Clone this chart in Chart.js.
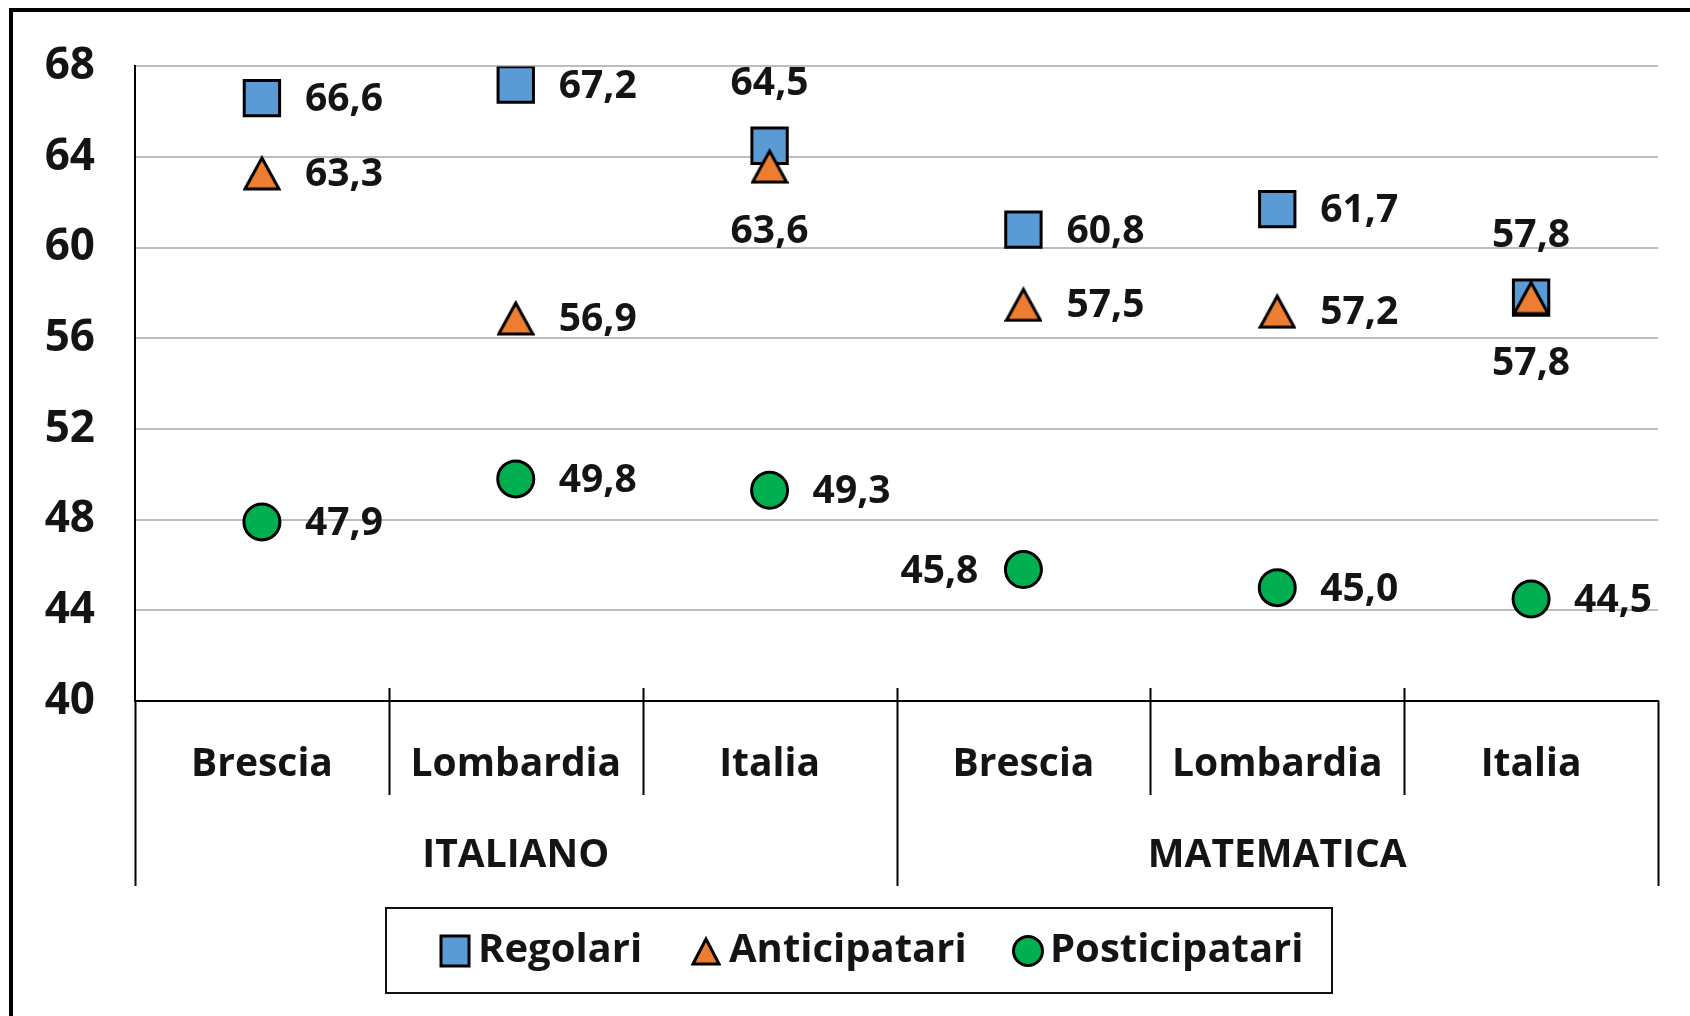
<!DOCTYPE html>
<html>
<head>
<meta charset="utf-8">
<script src="https://cdn.jsdelivr.net/npm/chart.js@4"></script>
<style>
  html, body { margin: 0; padding: 0; background: #fff; }
  #wrap { width: 1690px; height: 1016px; position: relative; }
</style>
</head>
<body>
<div id="wrap"><canvas id="chart"></canvas></div>
<script>
const categories = ["Brescia", "Lombardia", "Italia", "Brescia", "Lombardia", "Italia"]
const groups = ["ITALIANO", "MATEMATICA"]
const regolari = [66.6, 67.2, 64.5, 60.8, 61.7, 57.8]
const anticipatari = [63.3, 56.9, 63.6, 57.5, 57.2, 57.8]
const posticipatari = [47.9, 49.8, 49.3, 45.8, 45.0, 44.5]
const seriesNames = ["Regolari", "Anticipatari", "Posticipatari"]

// where each data label sits relative to its marker
const labelSide = [
  ["right", "right", "above", "right", "right", "above"],
  ["right", "right", "below", "right", "right", "below"],
  ["right", "right", "right", "left", "right", "right"],
]

const FONT = "'Open Sans', 'Liberation Sans', sans-serif"
const TXT = "#141414"
const BLUE = "#5b9bd5"
const ORANGE = "#ed7d31"
const GREEN = "#00b050"

const fmt = (v) => v.toFixed(1).replace(".", ",")

// triangle marker as an image so it is centred on its box like in Excel
function triangleMarker(w, h, lw) {
  const c = document.createElement("canvas")
  c.width = w
  c.height = h
  const t = c.getContext("2d")
  t.fillStyle = ORANGE
  t.strokeStyle = "#000"
  t.lineWidth = lw
  t.lineJoin = "miter"
  const m = lw / 2 + 0.5
  t.beginPath()
  t.moveTo(w / 2, m + 1)
  t.lineTo(w - m, h - m)
  t.lineTo(m, h - m)
  t.closePath()
  t.fill()
  t.stroke()
  return c
}
const triImg = triangleMarker(38, 36, 3)

// draws everything Chart.js does not: labels, category rows, legend, frame
const extras = {
  id: "extras",
  afterDraw(chart) {
    const ctx = chart.ctx
    const area = chart.chartArea
    const x = chart.scales.x
    ctx.save()

    // frame (left + top only)
    ctx.fillStyle = "#000"
    ctx.fillRect(9, 8, 4, 1008)
    ctx.fillRect(9, 8, 1681, 4)

    // category separators
    ctx.strokeStyle = "#000"
    ctx.lineWidth = 2
    const n = categories.length
    const edge = (i) => {
      if (i === 0) return area.left
      if (i === n) return area.right
      return (x.getPixelForValue(i - 1) + x.getPixelForValue(i)) / 2
    }
    for (let i = 0; i <= n; i++) {
      const ex = Math.round(edge(i)) + 0.5
      const isGroup = i % 3 === 0
      ctx.beginPath()
      ctx.moveTo(ex, (i === 0 || i === n) ? area.bottom : area.bottom - 13)
      ctx.lineTo(ex, isGroup ? 886 : 795)
      ctx.stroke()
    }

    // category + group text
    ctx.fillStyle = TXT
    ctx.font = "bold 39px " + FONT
    ctx.textAlign = "center"
    ctx.textBaseline = "middle"
    categories.forEach((c, i) => ctx.fillText(c, x.getPixelForValue(i), 765))
    groups.forEach((g, k) => ctx.fillText(g, (edge(k * 3) + edge(k * 3 + 3)) / 2, 856))

    // data labels
    ctx.font = "bold 39px " + FONT
    chart.data.datasets.forEach((ds, di) => {
      const meta = chart.getDatasetMeta(di)
      meta.data.forEach((pt, j) => {
        const side = labelSide[di][j]
        const txt = fmt(ds.data[j])
        const y = pt.y + 2
        if (side === "right") { ctx.textAlign = "left"; ctx.fillText(txt, pt.x + 43, y) }
        else if (side === "left") { ctx.textAlign = "right"; ctx.fillText(txt, pt.x - 45, y) }
        else if (side === "above") { ctx.textAlign = "center"; ctx.fillText(txt, pt.x, pt.y - 62) }
        else { ctx.textAlign = "center"; ctx.fillText(txt, pt.x, pt.y + 66) }
      })
    })

    // legend
    ctx.strokeStyle = "#111"
    ctx.lineWidth = 2
    ctx.strokeRect(386, 908, 946, 85)
    const ly = 951
    ctx.lineWidth = 3
    ctx.strokeStyle = "#000"
    ctx.fillStyle = BLUE
    ctx.fillRect(441, ly - 15, 28, 30)
    ctx.strokeRect(441, ly - 15, 28, 30)
    ctx.drawImage(triangleMarker(30, 30, 3), 691, ly - 15)
    ctx.fillStyle = GREEN
    ctx.beginPath()
    ctx.arc(1028, ly, 14.5, 0, Math.PI * 2)
    ctx.fill()
    ctx.stroke()

    ctx.fillStyle = TXT
    ctx.font = "bold 40px " + FONT
    ctx.textAlign = "left"
    ctx.fillText(seriesNames[0], 478, ly)
    ctx.fillText(seriesNames[1], 729, ly)
    ctx.fillText(seriesNames[2], 1050, ly)

    ctx.restore()
  },
}

new Chart(document.getElementById("chart"), {
  type: "line",
  data: {
    labels: categories,
    datasets: [
      {
        label: seriesNames[0],
        data: regolari,
        showLine: false,
        pointStyle: "rect",
        pointRadius: 25,
        pointHoverRadius: 25,
        pointBackgroundColor: BLUE,
        pointBorderColor: "#000",
        pointBorderWidth: 3,
        order: 3,
      },
      {
        label: seriesNames[1],
        data: anticipatari,
        showLine: false,
        pointStyle: triImg,
        pointRadius: 18,
        pointHoverRadius: 18,
        pointBackgroundColor: ORANGE,
        pointBorderColor: "#000",
        pointBorderWidth: 3,
        order: 2,
      },
      {
        label: seriesNames[2],
        data: posticipatari,
        showLine: false,
        pointStyle: "circle",
        pointRadius: 18,
        pointHoverRadius: 18,
        pointBackgroundColor: GREEN,
        pointBorderColor: "#000",
        pointBorderWidth: 3,
        order: 1,
      },
    ],
  },
  options: {
    responsive: true,
    maintainAspectRatio: false,
    animation: false,
    events: [],
    layout: { padding: { top: 62, bottom: 315, right: 32, left: 0 } },
    plugins: { legend: { display: false }, tooltip: { enabled: false } },
    scales: {
      x: {
        type: "category",
        offset: true,
        grid: { display: false },
        ticks: { display: false },
        border: { display: true, color: "#000", width: 2 },
        afterFit: (s) => { s.height = 0 },
      },
      y: {
        min: 40,
        max: 68,
        ticks: { stepSize: 4, padding: 40, color: TXT, font: { family: FONT, size: 44, weight: "bold" } },
        grid: { color: "#bdbdbd", lineWidth: 2, drawTicks: false },
        border: { display: true, color: "#000", width: 2 },
        afterFit: (s) => { s.width = 135 },
      },
    },
  },
  plugins: [extras],
})
</script>
</body>
</html>
